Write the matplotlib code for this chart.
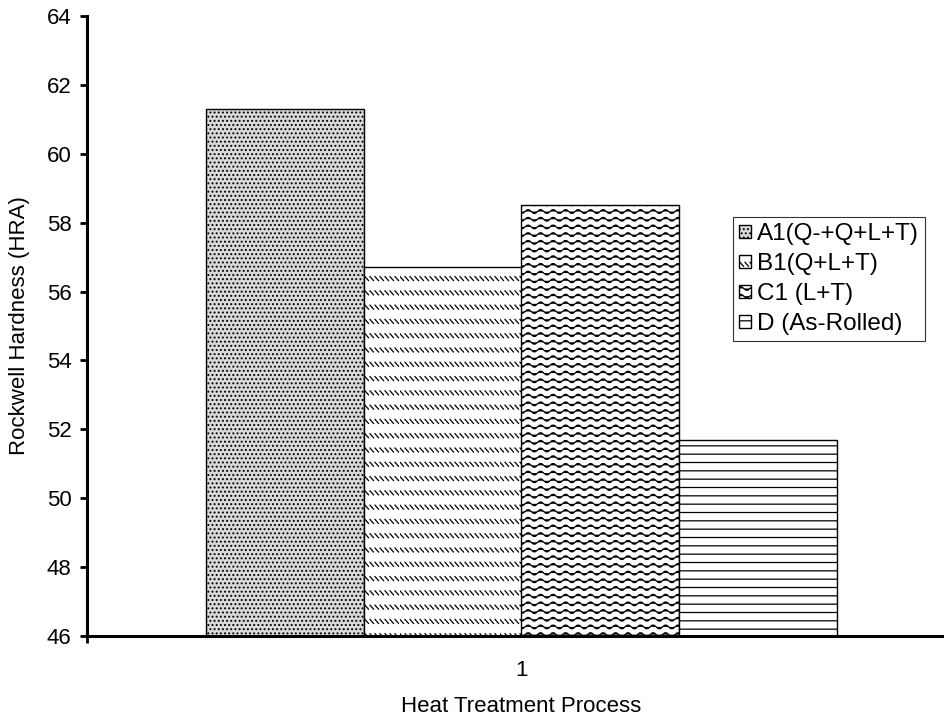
import warnings
import numpy as np
import matplotlib
matplotlib.use("Agg")
import matplotlib.pyplot as plt
import matplotlib.hatch as mhatch
from matplotlib.path import Path

warnings.filterwarnings("ignore")

# --- data ---
categories = ["1"]
series_names = ["A1(Q-+Q+L+T)", "B1(Q+L+T)", "C1 (L+T)", "D (As-Rolled)"]
series_values = [61.3, 56.7, 58.5, 51.7]
y_ticks = [46, 48, 50, 52, 54, 56, 58, 60, 62, 64]


# --- custom hatches (wavy lines and short diagonal dashes) ---
class WaveHatch(mhatch.HatchPatternBase):
    def __init__(self, hatch, density):
        self.num_rows = hatch.count("~") * 13
        self.waves = 8
        self.num_pts = self.waves * 6 + 1
        self.num_vertices = self.num_rows * self.num_pts

    def set_vertices_and_codes(self, vertices, codes):
        xs = np.linspace(0.0, 1.0, self.num_pts)
        wave = 0.02 * np.sin(xs * self.waves * 2 * np.pi)
        for i in range(self.num_rows):
            y0 = (i + 0.5) / self.num_rows
            sl = slice(i * self.num_pts, (i + 1) * self.num_pts)
            vertices[sl, 0] = xs
            vertices[sl, 1] = y0 + wave
            codes[sl] = Path.LINETO
            codes[i * self.num_pts] = Path.MOVETO


class DashHatch(mhatch.HatchPatternBase):
    def __init__(self, hatch, density):
        self.num_rows = hatch.count("`") * 7
        self.per_row = 20
        self.num_vertices = self.num_rows * self.per_row * 2

    def set_vertices_and_codes(self, vertices, codes):
        k = 0
        for i in range(self.num_rows):
            y0 = (i + 0.5) / self.num_rows
            for j in range(self.per_row):
                x0 = j / self.per_row
                vertices[k] = (x0, y0 + 0.02)
                vertices[k + 1] = (x0 + 0.035, y0 - 0.02)
                codes[k] = Path.MOVETO
                codes[k + 1] = Path.LINETO
                k += 2


mhatch._hatch_types.extend([WaveHatch, DashHatch])

plt.rcParams["font.family"] = ["Liberation Sans", "DejaVu Sans"]
plt.rcParams["hatch.linewidth"] = 0.9

fig = plt.figure(figsize=(9.44, 7.23), dpi=100)
ax = fig.add_axes([87 / 944, 1 - 636 / 723, 869 / 944, 620 / 723])

styles = [
    dict(facecolor="#d9d9d9", hatch="...."),
    dict(facecolor="white", hatch="`"),
    dict(facecolor="white", hatch="~"),
    dict(facecolor="white", hatch="--"),
]

x = np.arange(1, len(categories) + 1)
width = 1 / 5.5
for i, (name, val) in enumerate(zip(series_names, series_values)):
    off = (i - 1.5) * width
    ax.bar(x + off, val - 46, width, bottom=46, edgecolor="black",
           linewidth=1.0, label=name, **styles[i])

ax.set_xlim(0.5, 1.5)
ax.set_ylim(46, 64)
ax.set_yticks(y_ticks)
ax.set_xticks(x)
ax.set_xticklabels(categories)
ax.set_xticks([0.5, 1.5], minor=True)

for s in ["top", "right"]:
    ax.spines[s].set_visible(False)
for s in ["left", "bottom"]:
    ax.spines[s].set_linewidth(2.2)

ax.tick_params(axis="y", direction="out", length=5, width=2, labelsize=16, pad=6)
ax.tick_params(axis="x", which="major", length=0, labelsize=16, pad=17)
ax.tick_params(axis="x", which="minor", direction="out", length=5, width=2)

ax.set_xlabel("Heat Treatment Process", fontsize=16, labelpad=11)
ax.set_ylabel("Rockwell Hardness (HRA)", fontsize=16, labelpad=12)

leg = ax.legend(loc="upper left", bbox_to_anchor=(733 / 944, 1 - 217 / 723),
                bbox_transform=fig.transFigure, fontsize=17.5, frameon=True,
                fancybox=False, edgecolor="black", handlelength=0.5,
                handleheight=0.5, handletextpad=0.25, labelspacing=0.33,
                borderpad=0.25, borderaxespad=0)
leg.get_frame().set_linewidth(0.8)

fig.savefig("out.png", dpi=100, facecolor="white")
